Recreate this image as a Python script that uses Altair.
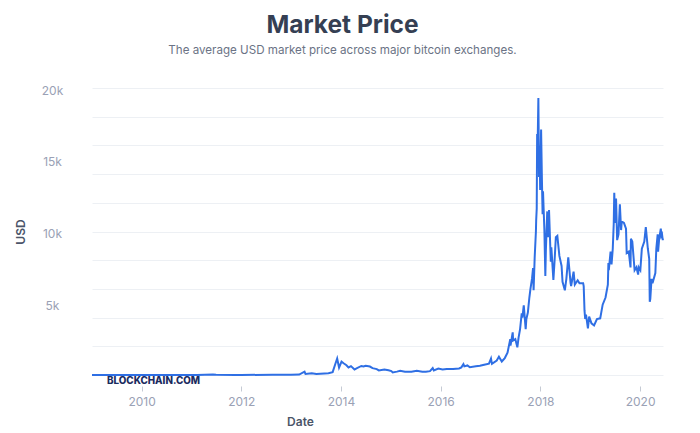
import altair as alt
import pandas as pd

dates = [
    "2009-01-03", "2010-07-17", "2010-12-31", "2011-02-10", "2011-06-08", "2011-07-01",
    "2011-11-18", "2012-01-01", "2012-08-17", "2012-12-31", "2013-03-01", "2013-04-09",
    "2013-04-16", "2013-06-01", "2013-07-05", "2013-10-01", "2013-11-01", "2013-11-18",
    "2013-12-04", "2013-12-18", "2014-01-05", "2014-01-20", "2014-02-10", "2014-02-25",
    "2014-03-15", "2014-04-10", "2014-04-25", "2014-05-30", "2014-06-15", "2014-07-01",
    "2014-08-01", "2014-08-20", "2014-09-20", "2014-10-05", "2014-11-15", "2014-12-15",
    "2015-01-05", "2015-01-15", "2015-02-15", "2015-03-10", "2015-04-15", "2015-06-01",
    "2015-07-10", "2015-08-20", "2015-09-15", "2015-10-15", "2015-11-04", "2015-11-12",
    "2015-12-15", "2016-01-15", "2016-02-15", "2016-04-01", "2016-05-15", "2016-06-01",
    "2016-06-16", "2016-06-23", "2016-07-15", "2016-08-02", "2016-09-15", "2016-10-15",
    "2016-11-15", "2016-12-20", "2017-01-04", "2017-01-11", "2017-02-15", "2017-03-03",
    "2017-03-24", "2017-04-15", "2017-05-05", "2017-05-25", "2017-05-27", "2017-06-12",
    "2017-06-15", "2017-07-01", "2017-07-16", "2017-07-25", "2017-08-05", "2017-08-17",
    "2017-08-22", "2017-09-01", "2017-09-15", "2017-09-20", "2017-10-01", "2017-10-12",
    "2017-10-20", "2017-11-01", "2017-11-08", "2017-11-12", "2017-11-20", "2017-11-29",
    "2017-12-01", "2017-12-05", "2017-12-08", "2017-12-10", "2017-12-13", "2017-12-17",
    "2017-12-22", "2017-12-26", "2017-12-30", "2018-01-06", "2018-01-12", "2018-01-17",
    "2018-01-20", "2018-01-30", "2018-02-06", "2018-02-10", "2018-02-20", "2018-02-25",
    "2018-03-05", "2018-03-18", "2018-03-22", "2018-04-06", "2018-04-15", "2018-04-24",
    "2018-05-05", "2018-05-20", "2018-06-05", "2018-06-12", "2018-06-29", "2018-07-10",
    "2018-07-24", "2018-08-10", "2018-08-14", "2018-09-01", "2018-09-10", "2018-10-01",
    "2018-10-14", "2018-11-10", "2018-11-14", "2018-11-20", "2018-11-25", "2018-12-01",
    "2018-12-15", "2018-12-24", "2019-01-10", "2019-01-29", "2019-02-19", "2019-03-15",
    "2019-04-02", "2019-04-23", "2019-05-10", "2019-05-14", "2019-05-17", "2019-05-30",
    "2019-06-06", "2019-06-15", "2019-06-22", "2019-06-26", "2019-07-02", "2019-07-09",
    "2019-07-17", "2019-07-27", "2019-08-06", "2019-08-15", "2019-08-20", "2019-09-05",
    "2019-09-20", "2019-09-25", "2019-10-10", "2019-10-23", "2019-10-26", "2019-11-05",
    "2019-11-22", "2019-12-05", "2019-12-18", "2019-12-22", "2020-01-03", "2020-01-14",
    "2020-02-01", "2020-02-12", "2020-02-27", "2020-03-08", "2020-03-12", "2020-03-16",
    "2020-03-25", "2020-04-01", "2020-04-22", "2020-04-29", "2020-05-09", "2020-05-12",
    "2020-05-20", "2020-06-01", "2020-06-05", "2020-06-10", "2020-06-15", "2020-06-17",
]

prices = [
    0, 0.05, 0.3, 1, 29.6, 15,
    2.2, 5.3, 13.5, 13.4, 34, 230,
    68, 129, 70, 125, 200, 700,
    1150, 520, 930, 820, 680, 530,
    620, 380, 460, 630, 590, 640,
    590, 480, 410, 320, 390, 330,
    270, 180, 235, 290, 220, 225,
    290, 230, 230, 270, 480, 320,
    450, 380, 410, 420, 455, 530,
    760, 600, 665, 540, 610, 640,
    710, 790, 1140, 780, 1010, 1280,
    940, 1180, 1550, 2500, 2050, 2970,
    2400, 2500, 1930, 2600, 3200, 4300,
    4000, 4850, 3200, 3900, 4350, 5400,
    6000, 6750, 7450, 5900, 8200, 10000,
    10800, 11600, 16800, 14500, 16900, 19300,
    13800, 16000, 12900, 17100, 13600, 11200,
    12800, 10100, 6900, 8700, 11400, 9600,
    11500, 7900, 8900, 6630, 8000, 9600,
    9700, 8300, 7600, 6500, 5900, 6700,
    8200, 6400, 6200, 7200, 6300, 6600,
    6400, 6400, 6200, 4500, 3900, 4200,
    3250, 4070, 3600, 3450, 3900, 3950,
    4900, 5400, 6300, 7800, 7300, 8600,
    7700, 8800, 10500, 12700, 10600, 12300,
    9400, 9800, 11900, 10100, 10700, 10600,
    10200, 8500, 8600, 7500, 9500, 9300,
    7300, 7500, 7000, 7500, 7300, 8800,
    9300, 10300, 8800, 8100, 5100, 5300,
    6700, 6400, 7100, 8800, 9800, 8600,
    9500, 10200, 9700, 9800, 9400, 9500,
]

axis_values = [0, 2000, 4000, 5000, 6000, 8000, 10000, 12000, 14000,
               15000, 16000, 18000, 20000]
watermark = ["BLOCKCHAIN.COM"]

df = pd.DataFrame({"date": pd.to_datetime(dates), "price": prices})

FONT = "Inter"

line = alt.Chart(df).mark_line(color="#2f6fe4", strokeWidth=2, interpolate="linear").encode(
    x=alt.X(
        "date:T",
        title="Date",
        scale=alt.Scale(nice=False),
        axis=alt.Axis(
            format="%Y",
            tickCount={"interval": "year", "step": 2},
            grid=False,
            domain=False,
            ticks=True,
            tickSize=5,
            tickColor="#c5cad4",
            offset=11,
            labelPadding=5,
            labelColor="#9aa1b5",
            labelFontSize=12,
            labelFont=FONT,
            titleFont=FONT,
            titleFontSize=12,
            titleFontWeight=600,
            titleColor="#4b5569",
            titleX=208,
            titleY=35,
            titleBaseline="middle",
            titleAlign="center",
        ),
    ),
    y=alt.Y(
        "price:Q",
        title="USD",
        scale=alt.Scale(domain=[0, 20000], nice=False),
        axis=alt.Axis(
            values=axis_values,
            labelExpr="datum.value > 0 && datum.value % 5000 == 0 ? (datum.value / 1000) + 'k' : ''",
            gridColor={"condition": {"test": "datum.value % 2000 == 0", "value": "#edf0f4"},
                       "value": "transparent"},
            grid=True,
            domain=False,
            ticks=False,
            tickSize=0,
            labelAlign="center",
            labelPadding=40,
            labelOffset=2,
            labelColor="#9aa1b5",
            labelFontSize=12,
            labelFont=FONT,
            titleFont=FONT,
            titleFontSize=12,
            titleFontWeight=600,
            titleColor="#4b5569",
            titleX=-72,
            titleY=143.5,
            titleAngle=-90,
            titleAlign="center",
            titleBaseline="middle",
        ),
    ),
)

wm = alt.Chart(pd.DataFrame({"t": watermark})).mark_text(
    align="left", baseline="middle", font=FONT, fontSize=9.8, fontWeight=800, color="#1b2b5e"
).encode(text="t:N", x=alt.value(15), y=alt.value(293))

chart = alt.layer(line, wm).properties(
    width=571,
    height=287,
    autosize=alt.AutoSizeParams(type="none"),
    padding={"left": 84, "top": 80, "right": 20, "bottom": 62},
    title=alt.Title(
        "Market Price",
        subtitle="The average USD market price across major bitcoin exchanges.",
        font=FONT,
        fontSize=24.5,
        fontWeight=700,
        color="#353f53",
        subtitleFont=FONT,
        subtitleFontSize=11.6,
        subtitleColor="#6b7385",
        subtitlePadding=6.5,
        anchor="middle",
        frame="group",
        dx=-35,
        offset=26.5,
    ),
).configure_view(stroke=None)

chart.save("out.html", embed_options={"renderer": "svg", "actions": False})
